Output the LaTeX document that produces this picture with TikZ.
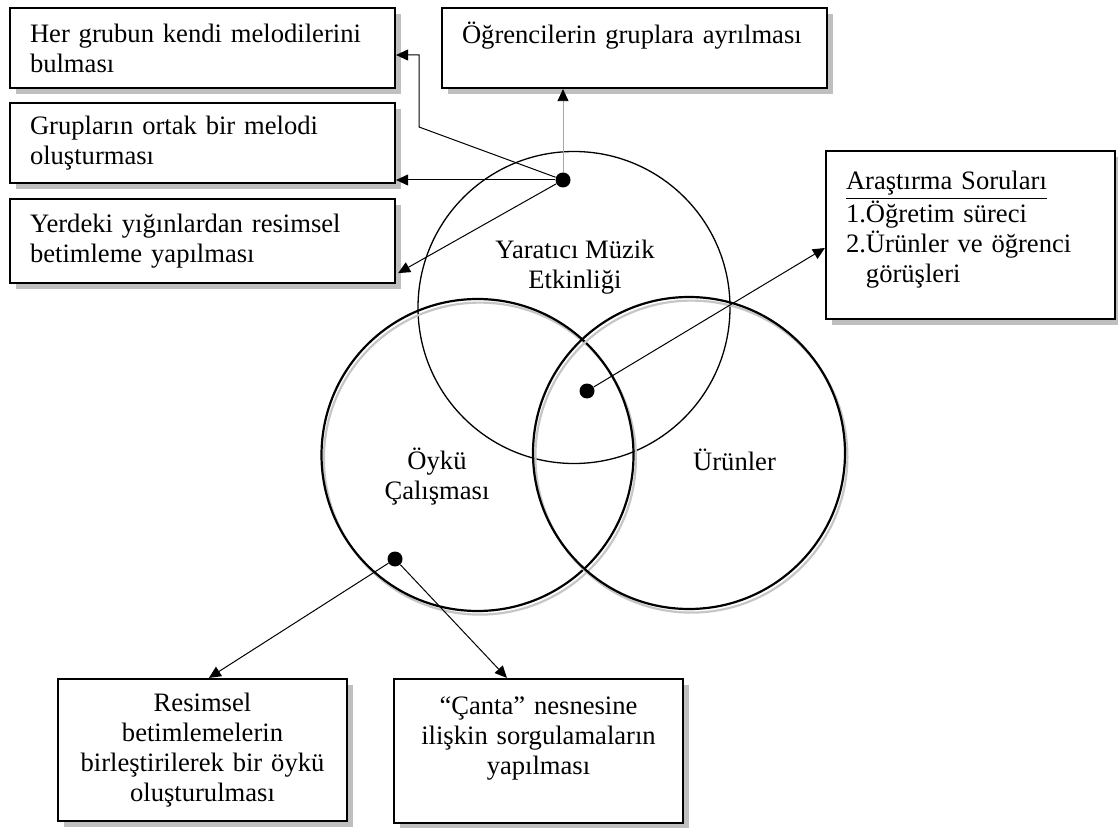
\documentclass[tikz,border=0pt]{standalone}
\usepackage{fontspec}
\setmainfont{Liberation Serif}
\usepackage{tikz}
\usetikzlibrary{arrows.meta,calc,positioning,shadows}

\begin{document}
\begin{tikzpicture}[x=0.5pt,y=-0.5pt,
  every node/.style={font=\fontsize{13.3}{15}\selectfont},
  kutu/.style={draw,line width=1.1pt,fill=white,inner xsep=10pt,inner ysep=0pt,
    drop shadow={shadow xshift=3pt,shadow yshift=-3pt,fill=gray!50,opacity=1}},
  genis/.style={kutu,minimum width=192.5pt,text width=172.5pt,align=left},
  dar/.style={kutu,minimum width=144.5pt,text width=124.5pt},
  halka/.style={circle,draw,line width=0.65pt,minimum size=156pt,inner sep=0pt},
  kalin/.style={line width=1.1pt,drop shadow={shadow xshift=1.2pt,shadow yshift=-1.8pt,
    fill=none,draw=gray!45,line width=1.1pt,opacity=1}},
  nokta/.style={circle,fill=black,minimum size=7.5pt,inner sep=0pt},
  ok/.style={line width=0.5pt,-{Triangle[length=6pt,width=5.5pt]}}]
\useasboundingbox (0,0) rectangle (1118,828);

\node[genis,minimum height=40pt] (kutu1) at (202.5,48) {Her grubun kendi melodilerini\\bulması};
\node[genis,minimum height=40pt] (kutu2) at (202.5,143) {Grupların ortak bir melodi\\oluşturması};
\node[genis,minimum height=42pt] (kutu3) at (202.5,241) {Yerdeki yığınlardan resimsel\\betimleme yapılması};
\node[genis,minimum height=40pt] (kutu4) at (634.5,48) {Öğrencilerin gruplara ayrılması\\\mbox{}};
\node[dar,minimum height=84pt,align=left] (kutu5) at (970.5,235) {\underline{Araştırma Soruları}\\1.Öğretim süreci\\2.Ürünler ve öğrenci\\\phantom{2.}görüşleri\\[-7pt]\mbox{}};
\node[dar,minimum height=71pt,align=center] (kutu6) at (202.5,750) {Resimsel\\betimlemelerin\\birleştirilerek bir öykü\\oluşturulması};
\node[dar,minimum height=72pt,align=center] (kutu7) at (538.5,751) {“Çanta” nesnesine\\ilişkin sorgulamaların\\yapılması\\\mbox{}};

\node[halka] (yme) at (574,307.5) {};
\node[halka,kalin] (oyku) at (477.5,455) {};
\node[halka,kalin] (urun) at (689,453) {};

\node[align=center] (ymeyazi) at (575,267) {Yaratıcı Müzik\\Etkinliği};
\node[align=center] (oykuyazi) at (437,477) {Öykü\\Çalışması};
\node (urunyazi) at (734.5,460) {Ürünler};

\node[nokta] (nA) at (563,180) {};
\node[nokta] (nB) at (587,391) {};
\node[nokta] (nC) at (395,559) {};

\coordinate (dirsek) at (419,127);
\coordinate (ok1) at ($(kutu1.east)+(0,7)$);
\draw[ok] (nA) -- (dirsek) -- (dirsek |- ok1) -- (ok1);
\draw[ok] (nA) -- (nA -| kutu2.east);
\draw[ok] (nA) -- ($(kutu3.south east)+(2,-11)$);
\draw[line width=0.4pt,draw=gray!70,-{Triangle[length=6pt,width=5.5pt,color=black]}] (nA) -- (nA |- kutu4.south);
\draw[ok] (nB) -- ($(kutu5.west)+(0,13)$);
\draw[ok] (nC) -- ($(kutu6.north west)+(152,0)$);
\draw[ok] (nC) -- ($(kutu7.north west)+(114,0)$);
\end{tikzpicture}
\end{document}
